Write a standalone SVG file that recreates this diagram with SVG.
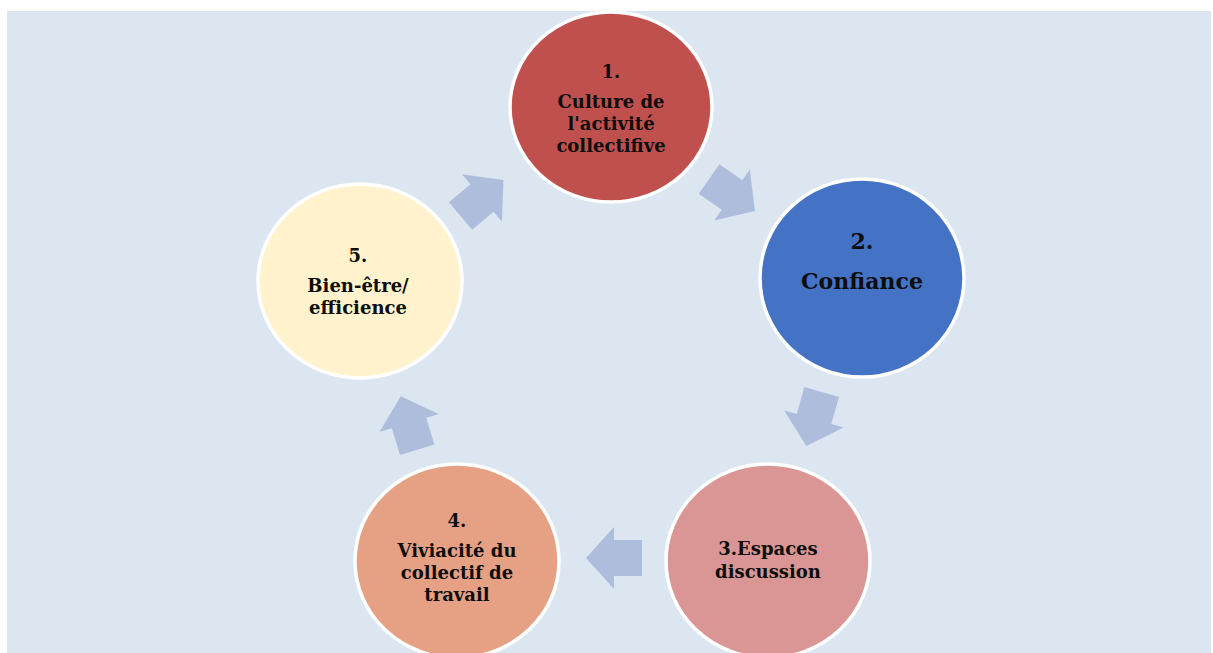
<svg xmlns="http://www.w3.org/2000/svg" width="1213" height="653" viewBox="0 0 1213 653">
<defs>
<style>
.bg{fill:#dce6f1}
.node{stroke:#ffffff;stroke-width:3.5}
.t{font-family:"DejaVu Serif","Liberation Serif",serif;font-weight:bold;fill:#0d0d0d;text-anchor:middle;font-size:18px}
.big{font-size:22px}
.arrow{fill:#afbddc}
</style>
<path id="arr" d="M-28,-18 L0,-18 L0,-31 L28,0 L0,31 L0,18 L-28,18 Z"/>
</defs>
<rect x="0" y="0" width="1213" height="653" fill="#ffffff"/>
<rect class="bg" x="7" y="11" width="1204" height="642"/>
<g id="connectors">
<use href="#arr" class="arrow" transform="translate(732,195) rotate(35)"/>
<use href="#arr" class="arrow" transform="translate(814,419) rotate(106)"/>
<use href="#arr" class="arrow" transform="translate(614,558) rotate(180)"/>
<use href="#arr" class="arrow" transform="translate(409,423) rotate(-107)"/>
<use href="#arr" class="arrow" transform="translate(482,198) rotate(-40)"/>
</g>
<g id="node1">
<ellipse class="node" cx="611" cy="107" rx="101" ry="95" fill="#c0504d"/>
<text class="t" x="611" y="78">1.</text>
<text class="t" x="611" y="108">Culture de</text>
<text class="t" x="611" y="130">l'activité</text>
<text class="t" x="611" y="152">collectifive</text>
</g>
<g id="node2">
<ellipse class="node" cx="862" cy="278" rx="102" ry="99" fill="#4472c4"/>
<text class="t big" x="862" y="249">2.</text>
<text class="t big" x="862" y="289">Confiance</text>
</g>
<g id="node3">
<ellipse class="node" cx="768" cy="561" rx="102" ry="97" fill="#d99694"/>
<text class="t" x="768" y="555">3.Espaces</text>
<text class="t" x="768" y="578">discussion</text>
</g>
<g id="node4">
<ellipse class="node" cx="457" cy="561" rx="102" ry="97" fill="#e6a083"/>
<text class="t" x="457" y="527">4.</text>
<text class="t" x="457" y="557">Viviacité du</text>
<text class="t" x="457" y="579">collectif de</text>
<text class="t" x="457" y="601">travail</text>
</g>
<g id="node5">
<ellipse class="node" cx="360" cy="281" rx="102" ry="97" fill="#fff2cc"/>
<text class="t" x="358" y="262">5.</text>
<text class="t" x="358" y="292">Bien-être/</text>
<text class="t" x="358" y="314">efficience</text>
</g>
</svg>
